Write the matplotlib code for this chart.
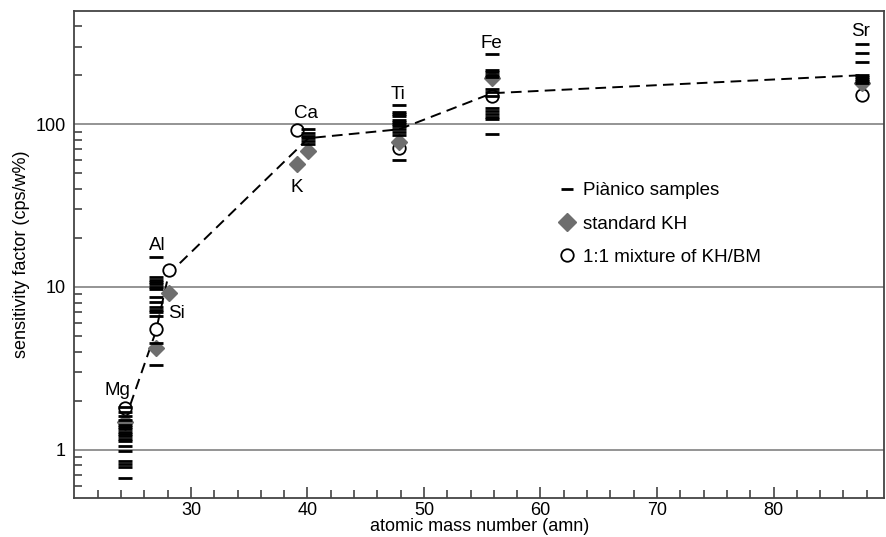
import numpy as np
import matplotlib.pyplot as plt
from matplotlib.ticker import FixedLocator, NullFormatter, FixedFormatter
from matplotlib.lines import Line2D

plt.rcParams['font.family'] = ['Liberation Sans', 'DejaVu Sans']

# --- Piànico sample sensitivity factors, one list per element ---
mg_samples = [1.83, 1.71, 1.62, 1.52, 1.41, 1.37, 1.33, 1.29, 1.25, 1.21,
              1.17, 1.13, 1.05, 0.98, 0.85, 0.82, 0.78, 0.67]
al_samples = [15.3, 11.5, 11.1, 10.7, 10.4, 10.0, 9.7, 8.7, 8.1, 7.5, 7.2,
              7.0, 6.6, 4.5, 3.3]
ca_samples = [94, 88, 85, 82, 79, 76]
ti_samples = [131, 119, 116, 113, 106, 103, 100, 97, 94, 89, 86, 60]
fe_samples = [269, 215, 208, 201, 195, 165, 158, 150, 125, 120, 115, 111,
              108, 87]
sr_samples = [313, 272, 241, 200, 195, 190, 185, 180]

sample_mass = {24.31: mg_samples, 26.98: al_samples, 40.08: ca_samples,
               47.87: ti_samples, 55.85: fe_samples, 87.62: sr_samples}

# --- standard KH ---
kh_mass = [24.31, 26.98, 28.09, 39.10, 40.08, 47.87, 55.85, 87.62]
kh_value = [1.48, 4.2, 9.2, 56.8, 68.6, 77.8, 191, 180]

# --- 1:1 mixture of KH/BM ---
mix_mass = [24.31, 26.98, 28.09, 39.10, 47.87, 55.85, 87.62]
mix_value = [1.8, 5.55, 12.7, 91.9, 71, 150, 152]

# --- calibration curve ---
line_mass = [24.31, 26.98, 28.09, 40.08, 47.87, 55.85, 87.62]
line_value = [1.5, 5.3, 12.0, 82, 93, 155, 200]

# --- element labels ---
elem_names = ['Mg', 'Al', 'Si', 'K', 'Ca', 'Ti', 'Fe', 'Sr']
elem_x = [23.7, 27.1, 28.8, 39.1, 39.9, 47.75, 55.8, 87.45]
elem_y = [2.32, 18.0, 6.9, 41, 117, 153, 315, 372]

fig = plt.figure(figsize=(8.86, 5.37), dpi=100)
ax = fig.add_axes([0.084, 0.073, 0.914, 0.906])

spine_col = '#444444'
grid_col = '#777777'
fs = 13

ax.set_yscale('log')
ax.set_xlim(20, 89.5)
ax.set_ylim(0.506, 494)

for v in [1, 10, 100]:
    ax.axhline(v, color=grid_col, lw=1.1, zorder=1)

# dashed curve through the means
ax.plot(line_mass, line_value, color='black', lw=1.4, dashes=(5.5, 3.2),
        zorder=2)

# circles and diamonds
ax.plot(mix_mass, mix_value, 'o', ms=9, mfc='white', mec='black', mew=1.3,
        ls='none', zorder=3)
ax.plot(kh_mass, kh_value, 'D', ms=8.5, mfc='#6e6e6e', mec='#6e6e6e',
        ls='none', zorder=3)

# sample dashes
for m, vals in sample_mass.items():
    ax.plot(np.full(len(vals), m), vals, '_', ms=10, mew=2.0, color='black',
            ls='none', zorder=4)

for name, x, y in zip(elem_names, elem_x, elem_y):
    ax.text(x, y, name, ha='center', va='center', fontsize=13.5, zorder=5)

# axes styling: full frame, ticks only on left and bottom
for side in ['left', 'bottom', 'top', 'right']:
    ax.spines[side].set_color(spine_col)
    ax.spines[side].set_linewidth(1.3)

ax.set_xticks([30, 40, 50, 60, 70, 80])
ax.set_xticks(np.arange(22, 90, 2), minor=True)
ax.yaxis.set_major_locator(FixedLocator([1, 10, 100]))
ax.yaxis.set_major_formatter(FixedFormatter(['1', '10', '100']))
minor_y = [m * d for d in [0.1, 1, 10, 100] for m in range(2, 10)]
ax.yaxis.set_minor_locator(FixedLocator([v for v in minor_y if 0.5 < v < 494]))
ax.yaxis.set_minor_formatter(NullFormatter())

ax.tick_params(axis='both', which='major', direction='in', length=8,
               width=1.2, color=spine_col, labelsize=fs, pad=3)
ax.tick_params(axis='both', which='minor', direction='in', length=5.5,
               width=1.2, color=spine_col)
ax.tick_params(axis='y', which='major', length=0, pad=6)

ax.set_xlabel('atomic mass number (amn)', fontsize=fs, labelpad=-1)
ax.set_ylabel('sensitivity factor (cps/w%)', fontsize=fs, labelpad=4)

handles = [
    Line2D([], [], marker='_', ms=8, mew=2.0, color='black', ls='none'),
    Line2D([], [], marker='D', ms=9.5, mfc='#6e6e6e', mec='#6e6e6e', ls='none'),
    Line2D([], [], marker='o', ms=9, mfc='white', mec='black', mew=1.3,
           ls='none'),
]
labels = ['Piànico samples', 'standard KH', '1:1 mixture of KH/BM']
ax.legend(handles, labels, loc='upper left', bbox_to_anchor=(0.587, 0.664),
          frameon=False, fontsize=13.5, labelspacing=0.86, handletextpad=0.35,
          handlelength=1.0, borderaxespad=0)

fig.savefig('out.png', dpi=100)
